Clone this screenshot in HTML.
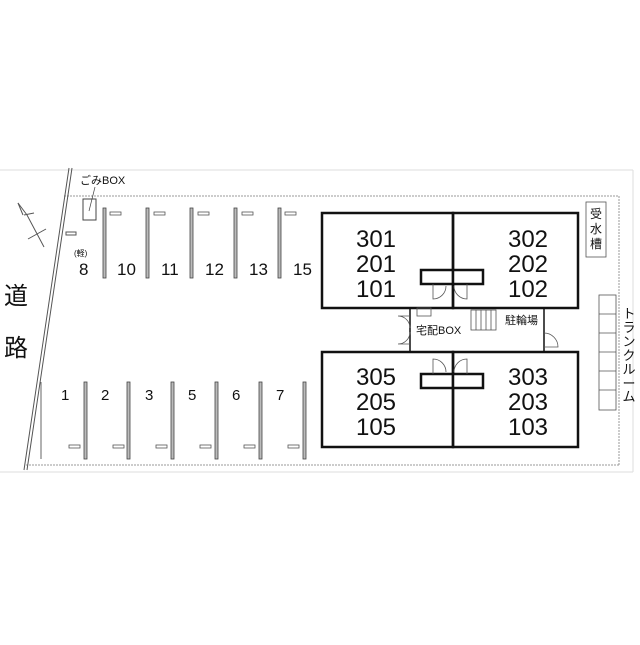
<!DOCTYPE html>
<html><head><meta charset="utf-8"><style>
body{margin:0;background:#fff;}
svg text{font-family:"Liberation Sans","Noto Sans CJK JP",sans-serif;fill:#111;}
</style></head><body>
<svg width="640" height="640" viewBox="0 0 640 640" xmlns="http://www.w3.org/2000/svg">
<rect width="640" height="640" fill="#fff"/>
<g stroke="#ddd" fill="none" stroke-width="1"><line x1="0" y1="170" x2="633" y2="170"/><line x1="633" y1="170" x2="633" y2="472"/><line x1="0" y1="472" x2="633" y2="472"/></g>
<g stroke="#999" stroke-dasharray="2,1" fill="none"><line x1="64" y1="196" x2="619" y2="196"/><line x1="619" y1="196" x2="619" y2="465"/><line x1="26" y1="465" x2="619" y2="465"/></g>
<g stroke="#555" stroke-width="1"><line x1="69" y1="168" x2="24" y2="470"/><line x1="72" y1="168" x2="27" y2="470"/></g>
<g stroke="#555" fill="none"><polyline points="18,203 27,215 44,247"/><line x1="18" y1="203" x2="23" y2="215"/><line x1="28" y1="239" x2="46" y2="229"/><line x1="24" y1="215" x2="34" y2="213"/></g>
<text x="80" y="184" font-size="11">ごみBOX</text>
<rect x="83" y="199" width="13" height="21" fill="none" stroke="#444"/><line x1="89" y1="211" x2="95" y2="187" stroke="#444" stroke-width=".7"/>
<rect x="66" y="232" width="10" height="3" fill="none" stroke="#555"/>
<text x="74" y="256" font-size="8">(軽)</text>
<g font-size="17">
<text x="79" y="275">8</text><text x="117" y="275">10</text><text x="161" y="275">11</text><text x="205" y="275">12</text><text x="249" y="275">13</text><text x="293" y="275">15</text>
</g>
<g font-size="15">
<text x="61" y="400">1</text><text x="101" y="400">2</text><text x="145" y="400">3</text><text x="188" y="400">5</text><text x="232" y="400">6</text><text x="276" y="400">7</text>
</g>
<g fill="#bbb" stroke="#444" stroke-width=".8">
<rect x="103" y="208" width="3" height="70"/><rect x="146" y="208" width="3" height="70"/><rect x="190" y="208" width="3" height="70"/><rect x="234" y="208" width="3" height="70"/><rect x="278" y="208" width="3" height="70"/>
<rect x="84" y="382" width="3" height="77"/><rect x="127" y="382" width="3" height="77"/><rect x="171" y="382" width="3" height="77"/><rect x="215" y="382" width="3" height="77"/><rect x="259" y="382" width="3" height="77"/><rect x="303" y="382" width="3" height="77"/>
</g>
<line x1="41" y1="382" x2="41" y2="459" stroke="#666"/>
<g fill="none" stroke="#555" stroke-width=".8">
<rect x="110" y="212" width="11" height="3"/><rect x="154" y="212" width="11" height="3"/><rect x="198" y="212" width="11" height="3"/><rect x="242" y="212" width="11" height="3"/><rect x="285" y="212" width="11" height="3"/>
<rect x="69" y="445" width="11" height="3"/><rect x="113" y="445" width="11" height="3"/><rect x="156" y="445" width="11" height="3"/><rect x="200" y="445" width="11" height="3"/><rect x="244" y="445" width="11" height="3"/><rect x="288" y="445" width="11" height="3"/>
</g>
<text x="4" y="304" font-size="24">道</text><text x="4" y="356" font-size="24">路</text>
<g fill="none" stroke="#111" stroke-width="2.5">
<rect x="322" y="213" width="131" height="95"/><rect x="453" y="213" width="125" height="95"/>
<rect x="322" y="352" width="131" height="95"/><rect x="453" y="352" width="125" height="95"/>
<line x1="410" y1="308" x2="410" y2="352" stroke-width="1.5"/><line x1="544" y1="308" x2="544" y2="352" stroke-width="1.5"/>
<rect x="421" y="270" width="32" height="14" fill="#fff"/><rect x="453" y="270" width="30" height="14" fill="#fff"/>
<rect x="421" y="374" width="32" height="14" fill="#fff"/><rect x="453" y="374" width="30" height="14" fill="#fff"/>
</g>
<g font-size="24" text-anchor="middle">
<text x="376" y="247">301</text><text x="376" y="272">201</text><text x="376" y="297">101</text>
<text x="528" y="247">302</text><text x="528" y="272">202</text><text x="528" y="297">102</text>
<text x="376" y="385">305</text><text x="376" y="410">205</text><text x="376" y="435">105</text>
<text x="528" y="385">303</text><text x="528" y="410">203</text><text x="528" y="435">103</text>
</g>
<g fill="none" stroke="#555" stroke-width=".8">
<path d="M433 284 v15 a13 13 0 0 0 13 -13"/><path d="M467 284 v15 a13 13 0 0 1 -13 -13"/>
<path d="M433 374 v-15 a13 13 0 0 1 13 13"/><path d="M467 374 v-15 a13 13 0 0 0 -13 13"/>
<path d="M410 316 h-12 a12 12 0 0 1 12 12"/><path d="M410 344 h-12 a12 12 0 0 0 12 -12"/>
<path d="M544 347 h14 a14 14 0 0 0 -14 -14"/>
<rect x="417" y="308" width="14" height="8"/>
<rect x="471" y="310" width="25" height="20"/>
<line x1="476" y1="310" x2="476" y2="330"/><line x1="481" y1="310" x2="481" y2="330"/><line x1="486" y1="310" x2="486" y2="330"/><line x1="491" y1="310" x2="491" y2="330"/>
<rect x="586" y="202" width="20" height="55"/>
<rect x="599" y="295" width="17" height="115"/>
<line x1="599" y1="314" x2="616" y2="314"/><line x1="599" y1="333" x2="616" y2="333"/><line x1="599" y1="352" x2="616" y2="352"/><line x1="599" y1="371" x2="616" y2="371"/><line x1="599" y1="390" x2="616" y2="390"/>
</g>
<text x="416" y="334" font-size="11">宅配BOX</text>
<text x="505" y="324" font-size="11">駐輪場</text>
<g font-size="12" text-anchor="middle"><text x="596" y="218">受</text><text x="596" y="233">水</text><text x="596" y="248">槽</text></g>
<g font-size="13" text-anchor="middle"><text x="629" y="318">ト</text><text x="629" y="332">ラ</text><text x="629" y="346">ン</text><text x="629" y="360">ク</text><text x="629" y="374">ル</text><text x="629" y="388">ー</text><text x="629" y="401">ム</text></g>
</svg>
</body></html>
